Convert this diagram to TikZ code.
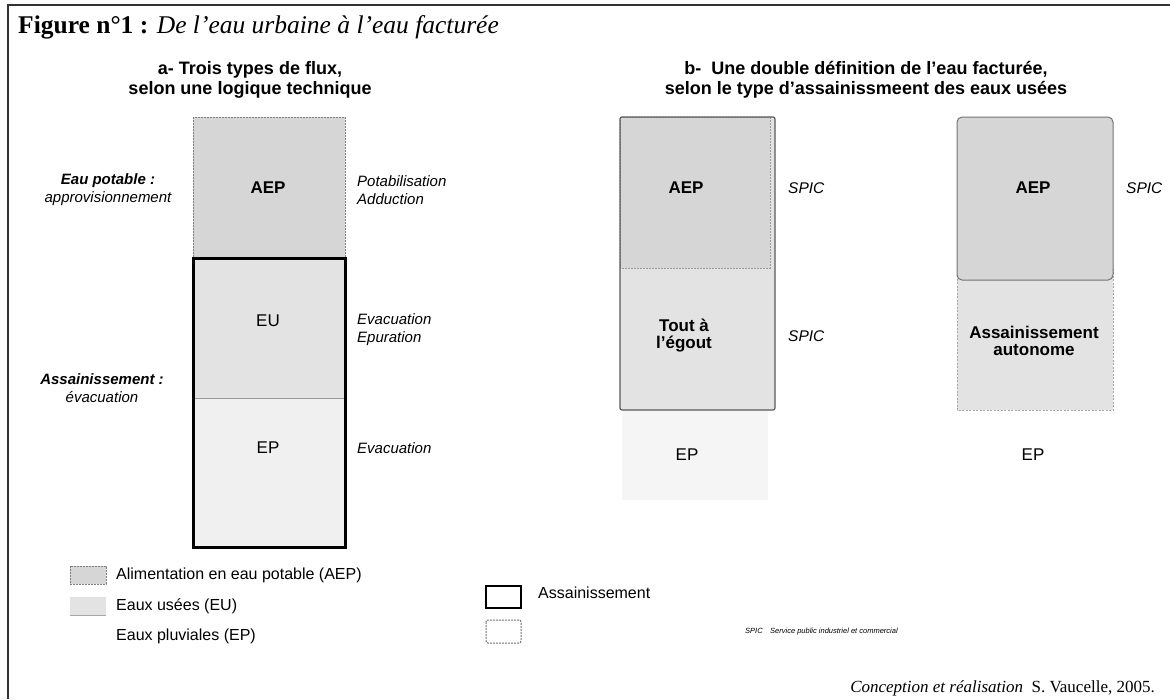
\documentclass[tikz,border=0pt]{standalone}
\usepackage{fontspec}
\setmainfont{Liberation Serif}
\setsansfont{Liberation Sans}
\begin{document}
\begin{tikzpicture}[x=1pt,y=-1pt,
  frameline/.style={line width=1.2pt,black!80},
  head/.style={font=\sffamily\bfseries\fontsize{18}{19.5}\selectfont,align=center,inner sep=0pt},
  side/.style={font=\sffamily\itshape\fontsize{15}{18}\selectfont,align=left,anchor=west,inner sep=0pt},
  leftlbl/.style={font=\sffamily\itshape\fontsize{15}{18}\selectfont,align=center,inner sep=0pt},
  boxlbl/.style={font=\sffamily\fontsize{17}{18}\selectfont,inner sep=0pt},
  boldlbl/.style={font=\sffamily\bfseries\fontsize{17}{17}\selectfont,align=center,inner sep=0pt},
  aepfill/.style={fill=black!16},
  eufill/.style={fill=black!11},
  epfill/.style={fill=black!6},
  dotborder/.style={draw=black!50,line width=0.9pt,dash pattern=on 2pt off 1pt},
  thickbox/.style={draw=black,line width=3pt},
  divider/.style={draw=black!40,line width=0.8pt},
  legtxt/.style={font=\sffamily\fontsize{16}{18}\selectfont,anchor=west,inner sep=0pt},
  spic/.style={font=\sffamily\itshape\fontsize{15.5}{18}\selectfont,anchor=west,inner sep=0pt}
]
\useasboundingbox (0,0) rectangle (1170,699);
% frame
\draw[frameline] (8,699) -- (8,5) -- (1170,5);
% title
\node[anchor=base west,inner sep=0pt] (title) at (18,33)
  {\fontsize{25.5}{28}\selectfont\textbf{Figure n°1 :} \textit{De l'eau urbaine à l'eau facturée}};
% headings
\node[head] (ha) at (250,80) {a- Trois types de flux,\\selon une logique technique};
\node[head] (hb) at (866,80) {b-\ \ Une double définition de l'eau facturée,\\selon le type d'assainissmeent des eaux usées};

% ---------- part a ----------
\path[aepfill,dotborder] (193,117) rectangle (345,258);
\fill[eufill] (193,258) rectangle (345,398);
\fill[epfill] (193,398) rectangle (345,547);
\draw[divider] (193,398) -- (345,398);
\draw[thickbox] (193,258) rectangle (345,547);
\node[boldlbl] (aepa) at (268,188) {AEP};
\node[boxlbl] (eua) at (268,321) {EU};
\node[boxlbl] (epa) at (268,448) {EP};
\node[leftlbl] (eaupot) at (108,190) {\textbf{Eau potable :}\\approvisionnement};
\node[leftlbl] (assain) at (102,388) {\textbf{Assainissement :}\\évacuation};
\node[side] (potab) at (357,190) {Potabilisation\\Adduction};
\node[side] (evep) at (357,330) {Evacuation\\Epuration};
\node[side] (evac) at (357,448) {Evacuation};

% ---------- part b, box 1 ----------
\fill[black!4] (622,410) rectangle (768,500);
\path[eufill] (620,117) rectangle (775,410);
\path[aepfill,draw=black!40,line width=0.7pt,dash pattern=on 2pt off 1pt] (620,117) rectangle (770,268);
\draw[draw=black!65,line width=1.2pt,rounded corners=2pt] (620,117) rectangle (775,410);
\node[boldlbl] (aepb1) at (686,188) {AEP};
\node[boldlbl,font=\sffamily\bfseries\fontsize{17}{17}\selectfont] (tout) at (684,336) {Tout à\\l'égout};
\node[boxlbl] (epb1) at (687,455) {EP};
\node[spic] (spic1) at (788,188) {SPIC};
\node[spic] (spic2) at (788,336) {SPIC};

% ---------- part b, box 2 ----------
\path[eufill] (957,268) rectangle (1113,410);
\draw[black!35,line width=0.8pt,dash pattern=on 2pt off 1.5pt] (957,268) -- (957,410) -- (1113,410) -- (1113,268);
\path[aepfill,draw=black!55,line width=1pt,rounded corners=5pt] (957,280) -- (957,117) -- (1113,117) -- (1113,280) -- cycle;
\node[boldlbl] (aepb2) at (1033,188) {AEP};
\node[boldlbl,font=\sffamily\bfseries\fontsize{17}{17}\selectfont] (auto) at (1034,341) {Assainissement\\autonome};
\node[boxlbl] (epb2) at (1033,455) {EP};
\node[spic] (spic3) at (1126,188) {SPIC};

% ---------- legend ----------
\path[aepfill,dotborder] (70,566) rectangle (106,584) node[midway] (sw1) {};
\path[eufill] (70,597) rectangle (106,615) node[midway] (sw2) {};
\draw[black!35,line width=0.6pt] (70,615) -- (106,615);
\node[legtxt] (l1) at (116,575) {Alimentation en eau potable (AEP)};
\node[legtxt] (l2) at (116,606) {Eaux usées (EU)};
\node[legtxt] (l3) at (116,636) {Eaux pluviales (EP)};
\draw[thickbox,line width=2.5pt] (486,586) rectangle (521,608) node[midway] (sw3) {};
\node[legtxt] (l4) at (538,593) {Assainissement};
\draw[draw=black!55,line width=1pt,dash pattern=on 2pt off 1pt,rounded corners=2pt] (486,620) rectangle (521,643) node[midway] (sw4) {};
\node[font=\sffamily\itshape\fontsize{7.5}{8}\selectfont,anchor=west,inner sep=0pt] (spicleg) at (745,632)
  {SPIC\quad Service public industriel et commercial};
\node[anchor=base east,inner sep=0pt,font=\fontsize{17}{19}\selectfont] (credit) at (1155,692)
  {\textit{Conception et réalisation}\ \ S. Vaucelle, 2005.};
\end{tikzpicture}
\end{document}
